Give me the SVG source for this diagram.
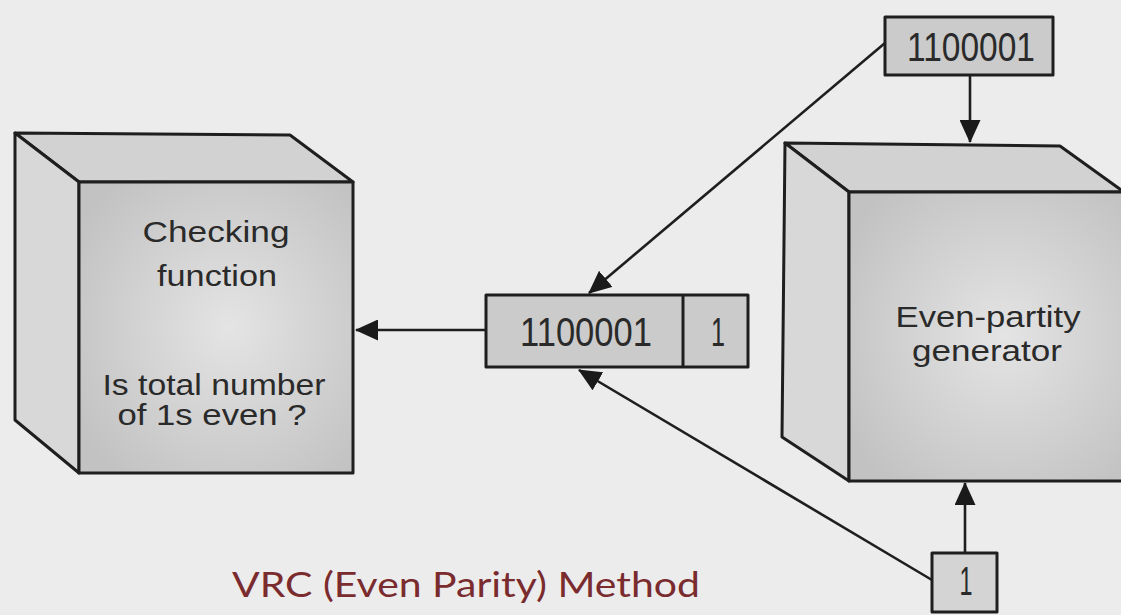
<svg xmlns="http://www.w3.org/2000/svg" width="1121" height="615" viewBox="0 0 1121 615">
<style>
.edge{stroke:#1e1e1e;stroke-width:2.6;fill:none}
.outline{stroke:#1e1e1e;stroke-width:3;stroke-linejoin:round}
.lbl{font-family:"Liberation Sans",Arial,sans-serif;font-size:30px;fill:#2a2a2a;text-anchor:middle}
.num{font-family:"Liberation Sans",Arial,sans-serif;font-size:41px;fill:#2a2a2a;text-anchor:middle}
.title{font-family:Lato,"Open Sans",sans-serif;font-size:35px;fill:#7a2b2e}
</style>
<defs>
<marker id="arr" markerUnits="userSpaceOnUse" markerWidth="23" markerHeight="21" viewBox="0 0 23 21" refX="22" refY="10.5" orient="auto">
<path d="M0,0 L23,10.5 L0,21 z" fill="#1a1a1a"/>
</marker>
<radialGradient id="front" cx="0.55" cy="0.5" r="0.65">
<stop offset="0" stop-color="#e4e4e4"/>
<stop offset="1" stop-color="#c2c2c2"/>
</radialGradient>
</defs>
<rect width="1121" height="615" fill="#ececec"/>

<g id="checking">
<polygon class="outline" points="15,133 290,135 353,182 79,182" fill="#d2d2d2"/>
<polygon class="outline" points="15,133 79,182 79,473 15,420" fill="#d8d8d8"/>
<rect class="outline" x="79" y="182" width="274" height="291" fill="url(#front)"/>
<text class="lbl" x="216" y="242" textLength="147" lengthAdjust="spacingAndGlyphs">Checking</text>
<text class="lbl" x="217" y="286" textLength="120" lengthAdjust="spacingAndGlyphs">function</text>
<text class="lbl" x="214" y="395" textLength="223" lengthAdjust="spacingAndGlyphs">Is total number</text>
<text class="lbl" x="212" y="425" textLength="189" lengthAdjust="spacingAndGlyphs">of 1s even ?</text>
</g>

<g id="generator">
<polygon class="outline" points="785,143 1060,146 1124,192 849,192" fill="#d2d2d2"/>
<polygon class="outline" points="785,143 849,192 849,481 782,437" fill="#d8d8d8"/>
<rect class="outline" x="849" y="192" width="280" height="289" fill="url(#front)"/>
<text class="lbl" x="988" y="327" textLength="185" lengthAdjust="spacingAndGlyphs">Even-partity</text>
<text class="lbl" x="987" y="361" textLength="150" lengthAdjust="spacingAndGlyphs">generator</text>
</g>

<g id="codeword">
<rect class="outline" x="486" y="295" width="262" height="72" fill="#cbcbcb"/>
<line class="outline" x1="683" y1="295" x2="683" y2="367"/>
<text class="num" x="586" y="346" textLength="132" lengthAdjust="spacingAndGlyphs">1100001</text>
<text class="num" x="718" y="346" textLength="14" lengthAdjust="spacingAndGlyphs">1</text>
</g>

<g id="data">
<rect class="outline" x="885" y="17" width="168" height="58" fill="#cbcbcb"/>
<text class="num" x="971" y="61" textLength="128" lengthAdjust="spacingAndGlyphs">1100001</text>
</g>

<g id="parity">
<rect class="outline" x="932" y="553" width="65" height="59" fill="#d4d4d4"/>
<text class="num" x="966" y="595" font-size="35" textLength="13" lengthAdjust="spacingAndGlyphs">1</text>
</g>

<g id="connectors">
<line class="edge" x1="885" y1="43" x2="589" y2="293" marker-end="url(#arr)"/>
<line class="edge" x1="932" y1="580" x2="579" y2="370" marker-end="url(#arr)"/>
<line class="edge" x1="486" y1="330" x2="356" y2="330" marker-end="url(#arr)"/>
<line class="edge" x1="970" y1="75" x2="970" y2="142" marker-end="url(#arr)"/>
<line class="edge" x1="965" y1="553" x2="965" y2="483" marker-end="url(#arr)"/>
</g>

<text id="caption" class="title" x="232" y="597" textLength="468" lengthAdjust="spacingAndGlyphs">VRC (Even Parity) Method</text>
</svg>
